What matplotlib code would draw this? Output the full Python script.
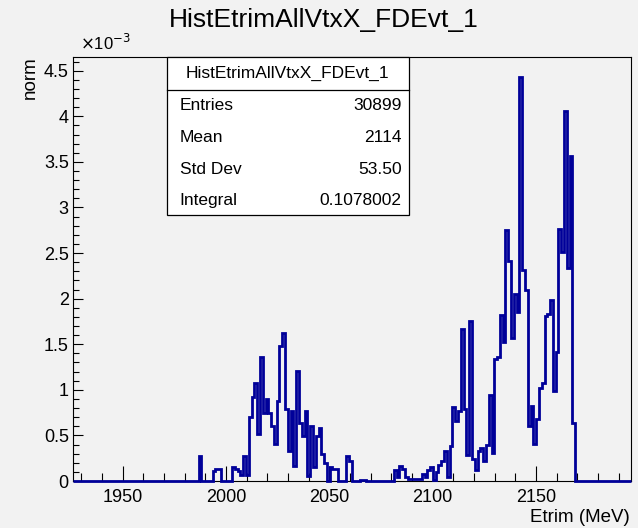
import numpy as np
import matplotlib
matplotlib.use('Agg')
import matplotlib.pyplot as plt
from matplotlib.ticker import MultipleLocator, FormatStrFormatter

plt.rcParams['font.family'] = ['Liberation Sans', 'DejaVu Sans']

# histogram binning (200 bins)
x_lo = 1926.0
x_hi = 2196.0
n_bins = 200
first_bin = 45
# bin contents in units of 1e-3, starting at bin index first_bin
norm_e3 = [
    0.27, 0, 0, 0, 0, 0.11, 0.13, 0.13, 0, 0,
    0, 0, 0.15, 0.13, 0.11, 0.07, 0.27, 0.07, 0.70, 0.92,
    1.08, 0.51, 1.36, 0.75, 0.90, 0.75, 0.60, 0.41, 0.88, 1.48,
    1.62, 0.79, 0.33, 0.77, 0.16, 1.21, 0.64, 0.49, 0.77, 0.05,
    0.60, 0.15, 0.49, 0.58, 0.30, 0.20, 0, 0.15, 0.13, 0.13,
    0, 0, 0, 0.27, 0.22, 0, 0, 0, 0.01, 0.01,
    0, 0, 0, 0, 0, 0, 0, 0, 0, 0,
    0.12, 0.04, 0.16, 0.13, 0.04, 0.02, 0.02, 0.02, 0.02, 0.02,
    0.08, 0.04, 0.12, 0.15, 0.01, 0.10, 0.17, 0.22, 0.33, 0.04,
    0.38, 0.81, 0.66, 0.77, 1.67, 0.79, 0.29, 1.76, 0.24, 0.12,
    0.33, 0.36, 0.22, 0.40, 0.94, 0.31, 1.34, 1.36, 1.82, 1.52,
    2.75, 2.41, 1.57, 2.05, 1.85, 4.43, 2.31, 2.09, 0.60, 0.82,
    0.41, 0.68, 1.02, 1.08, 1.81, 1.83, 1.98, 0.99, 1.41, 2.76,
    2.51, 4.06, 2.34, 3.56, 0.64,
]
stat_names = ['Entries', 'Mean', 'Std Dev', 'Integral']
stat_values = ['30899', '2114', '53.50', '0.1078002']
hist_name = 'HistEtrimAllVtxX_FDEvt_1'

edges = np.linspace(x_lo, x_hi, n_bins + 1)
counts = np.zeros(n_bins)
counts[first_bin:first_bin + len(norm_e3)] = norm_e3

bg = '#f2f2f2'
fig = plt.figure(figsize=(6.38, 5.28), dpi=100, facecolor=bg)
ax = fig.add_axes([73/638, 1 - 481/528, (631 - 73)/638, (481 - 57)/528])
ax.set_facecolor(bg)

ax.stairs(counts, edges, baseline=0, color='#000099', lw=2.0, zorder=3, clip_on=False)

ax.set_xlim(x_lo, x_hi)
ax.set_ylim(0, 4.65)

ax.xaxis.set_major_locator(MultipleLocator(50))
ax.xaxis.set_minor_locator(MultipleLocator(10))
ax.yaxis.set_major_locator(MultipleLocator(0.5))
ax.yaxis.set_minor_locator(MultipleLocator(0.1))
ax.yaxis.set_major_formatter(FormatStrFormatter('%g'))

ax.tick_params(axis='x', which='major', direction='in', length=11, width=0.8, labelsize=13, pad=6)
ax.tick_params(axis='x', which='minor', direction='in', length=6, width=0.8)
ax.tick_params(axis='y', which='major', direction='in', length=7.5, width=0.8, labelsize=13, pad=3)
ax.tick_params(axis='y', which='minor', direction='in', length=4.5, width=0.8)
for s in ax.spines.values():
    s.set_linewidth(0.8)

fig.text(0.508, 1 - 20/528, hist_name, ha='center', va='center', fontsize=19)
fig.text(30/638, 1 - 78/528, 'norm', ha='center', va='center', rotation=90, fontsize=13.5)
fig.text(630/638, 1 - 517/528, 'Etrim (MeV)', ha='right', va='center', fontsize=13.5)
fig.text(80/638, 1 - 43/528, r'$\times$10$^{-3}$', ha='left', va='center', fontsize=12)

# stats box
bx0, bx1, by0, by1, bsep = 166.5, 408.5, 57, 215, 90
def fx(p):
    return p / 638
def fy(p):
    return 1 - p / 528
box = plt.Rectangle((fx(bx0), fy(by1)), fx(bx1) - fx(bx0), fy(by0) - fy(by1),
                    transform=fig.transFigure, facecolor='white', edgecolor='black', lw=0.9, zorder=5)
fig.add_artist(box)
fig.add_artist(plt.Line2D([fx(bx0), fx(bx1)], [fy(bsep), fy(bsep)], transform=fig.transFigure,
                          color='black', lw=0.9, zorder=6))
fig.text(fx((bx0 + bx1) / 2), fy(73.5), hist_name, ha='center', va='center', fontsize=12.5, zorder=7)
row_y = [105, 137, 169, 200.5]
for name, val, yy in zip(stat_names, stat_values, row_y):
    fig.text(fx(179.5), fy(yy), name, ha='left', va='center', fontsize=12.5, zorder=7)
    fig.text(fx(401.5), fy(yy), val, ha='right', va='center', fontsize=12.5, zorder=7)

fig.savefig('out.png', dpi=100, facecolor=bg)
